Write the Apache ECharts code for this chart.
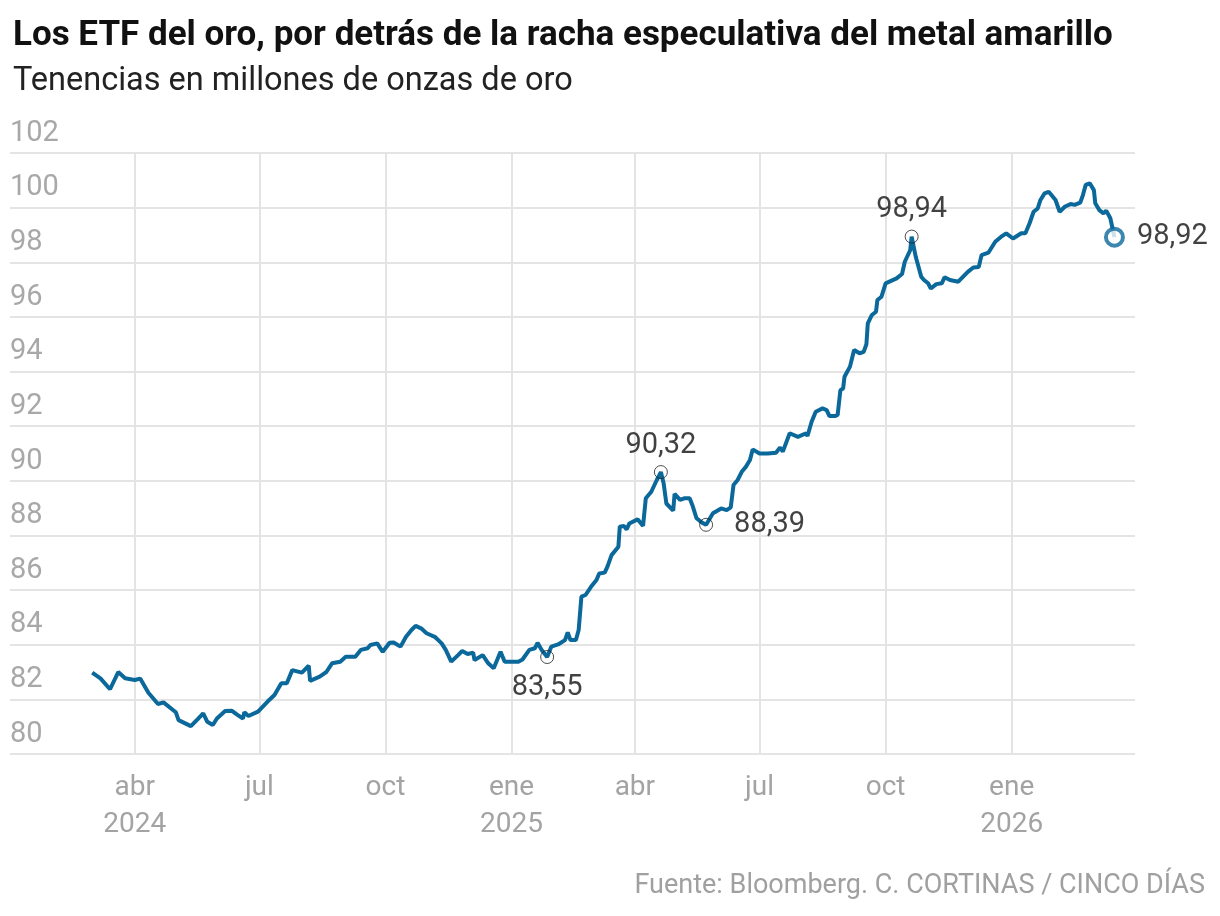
<!DOCTYPE html>
<html><head><meta charset="utf-8">
<script src="https://cdn.jsdelivr.net/npm/echarts@6/dist/echarts.min.js"></script>
<style>html,body{margin:0;padding:0;background:#fff}#c{width:1220px;height:916px}</style>
</head><body><div id="c"></div>
<script>
const titleText = 'Los ETF del oro, por detrás de la racha especulativa del metal amarillo';
const subtitleText = 'Tenencias en millones de onzas de oro';
const sourceText = 'Fuente: Bloomberg. C. CORTINAS / CINCO DÍAS';

const dates = [
 '2024-03-01','2024-03-07','2024-03-14','2024-03-20','2024-03-25','2024-04-01','2024-04-05','2024-04-11','2024-04-18','2024-04-22',
 '2024-05-01','2024-05-03','2024-05-12','2024-05-17','2024-05-21','2024-05-24','2024-05-28','2024-05-31','2024-06-06','2024-06-11',
 '2024-06-15','2024-06-19','2024-06-20','2024-06-23','2024-06-30','2024-07-07','2024-07-12','2024-07-17','2024-07-21','2024-07-25',
 '2024-08-01','2024-08-06','2024-08-07','2024-08-14','2024-08-19','2024-08-23','2024-08-29','2024-09-02','2024-09-09','2024-09-13',
 '2024-09-18','2024-09-20','2024-09-25','2024-09-29','2024-10-04','2024-10-07','2024-10-12','2024-10-16','2024-10-20','2024-10-23',
 '2024-10-27','2024-10-31','2024-11-06','2024-11-11','2024-11-14','2024-11-18','2024-11-23','2024-11-26','2024-11-30','2024-12-04',
 '2024-12-05','2024-12-11','2024-12-15','2024-12-19','2024-12-24','2024-12-27','2025-01-06','2025-01-09','2025-01-14','2025-01-18',
 '2025-01-20','2025-01-23','2025-01-27','2025-01-30','2025-02-04','2025-02-09','2025-02-11','2025-02-13','2025-02-17','2025-02-19',
 '2025-02-21','2025-02-24','2025-02-28','2025-03-04','2025-03-06','2025-03-10','2025-03-12','2025-03-15','2025-03-20','2025-03-21',
 '2025-03-24','2025-03-26','2025-03-28','2025-04-03','2025-04-07','2025-04-09','2025-04-13','2025-04-17','2025-04-20','2025-04-22',
 '2025-04-24','2025-04-29','2025-04-30','2025-05-04','2025-05-07','2025-05-11','2025-05-13','2025-05-16','2025-05-20','2025-05-23',
 '2025-05-28','2025-06-03','2025-06-07','2025-06-10','2025-06-12','2025-06-15','2025-06-18','2025-06-21','2025-06-24','2025-06-26',
 '2025-07-01','2025-07-07','2025-07-13','2025-07-16','2025-07-18','2025-07-23','2025-07-29','2025-08-04','2025-08-05','2025-08-08',
 '2025-08-11','2025-08-16','2025-08-19','2025-08-21','2025-08-25','2025-08-27','2025-08-29','2025-08-31','2025-09-01','2025-09-05',
 '2025-09-08','2025-09-12','2025-09-15','2025-09-17','2025-09-18','2025-09-21','2025-09-24','2025-09-25','2025-09-28','2025-10-01',
 '2025-10-05','2025-10-09','2025-10-13','2025-10-15','2025-10-19','2025-10-20','2025-10-23','2025-10-27','2025-10-29','2025-11-01',
 '2025-11-03','2025-11-07','2025-11-11','2025-11-13','2025-11-17','2025-11-23','2025-11-30','2025-12-04','2025-12-08','2025-12-10',
 '2025-12-15','2025-12-20','2025-12-25','2025-12-28','2026-01-02','2026-01-08','2026-01-11','2026-01-14','2026-01-17','2026-01-20',
 '2026-01-22','2026-01-25','2026-01-28','2026-01-30','2026-02-02','2026-02-05','2026-02-09','2026-02-13','2026-02-16','2026-02-20',
 '2026-02-22','2026-02-24','2026-02-27','2026-03-02','2026-03-03','2026-03-06','2026-03-09','2026-03-11','2026-03-14','2026-03-17'
];
const values = [
 82.98,82.77,82.37,83.00,82.77,82.71,82.76,82.24,81.83,81.89,
 81.53,81.24,81.02,81.28,81.49,81.18,81.06,81.30,81.57,81.58,
 81.43,81.30,81.53,81.39,81.55,81.92,82.16,82.59,82.59,83.07,
 82.98,83.23,82.68,82.83,83.01,83.32,83.38,83.56,83.56,83.81,
 83.87,83.99,84.05,83.74,84.07,84.08,83.93,84.29,84.54,84.69,
 84.60,84.42,84.29,84.05,83.81,83.38,83.62,83.77,83.66,83.71,
 83.44,83.62,83.32,83.14,83.74,83.38,83.38,83.46,83.81,83.87,
 84.07,83.81,83.55,83.93,84.01,84.17,84.45,84.17,84.17,84.54,
 85.76,85.82,86.12,86.37,86.61,86.64,86.86,87.28,87.59,88.32,
 88.35,88.22,88.44,88.59,88.35,89.36,89.60,90.03,90.32,89.91,
 89.17,88.91,89.52,89.30,89.36,89.36,89.11,88.63,88.47,88.39,
 88.81,88.99,88.93,89.03,89.85,90.03,90.33,90.51,90.76,91.15,
 91.00,91.00,91.03,91.22,91.07,91.74,91.61,91.74,91.64,92.16,
 92.53,92.65,92.59,92.37,92.37,92.41,93.32,93.38,93.81,94.18,
 94.79,94.67,94.72,95.00,95.76,96.07,96.19,96.62,96.74,97.23,
 97.32,97.41,97.57,98.02,98.45,98.94,98.20,97.47,97.35,97.23,
 97.04,97.20,97.23,97.45,97.35,97.29,97.65,97.81,97.83,98.26,
 98.35,98.75,98.96,99.06,98.87,99.06,99.06,99.42,99.85,99.97,
 100.28,100.52,100.58,100.46,100.28,99.85,100.04,100.13,100.10,100.18,
 100.46,100.83,100.89,100.64,100.16,99.91,99.79,99.89,99.61,98.92
];

const annDates = ['2025-01-27','2025-04-20','2025-05-23','2025-10-20'];
const annValues = [83.55, 90.32, 88.39, 98.94];
const lastDate = '2026-03-17';
const lastValue = 98.92;

const tickDates = ['2024-04-01','2024-07-01','2024-10-01','2025-01-01','2025-04-01','2025-07-01','2025-10-01','2026-01-01'];
const monthNames = ['ene','feb','mar','abr','may','jun','jul','ago','sep','oct','nov','dic'];

function toTs(s){ const p = s.split('-').map(Number); return new Date(p[0], p[1]-1, p[2]).getTime(); }
function fmt(v){ return v.toFixed(2).replace('.', ','); }

const FONT = 'Roboto';
const lineColor = '#0b689b';
const gridColor = '#e4e4e4';
const annPositions = ['bottom','top','right','top'];
const annDistances = [9, 5, 21, 5];

const lineData = dates.map((d,i)=>[toTs(d), values[i]]);
const annData = annDates.map((d,i)=>({
  value:[toTs(d), annValues[i]],
  label:{show:true, position:annPositions[i], distance:annDistances[i], formatter:fmt(annValues[i])}
}));
const tickTs = tickDates.map(toTs);

const chart = echarts.init(document.getElementById('c'), null, {renderer:'canvas'});
chart.setOption({
  animation:false,
  backgroundColor:'#fff',
  textStyle:{fontFamily:FONT},
  title:[
    {text:titleText, left:8, top:14, textStyle:{fontFamily:FONT, fontWeight:'bold', fontSize:35, color:'#111'}},
    {text:subtitleText, left:8, top:60, textStyle:{fontFamily:FONT, fontWeight:'normal', fontSize:32.5, color:'#222'}},
    {text:sourceText, right:10, top:868, textStyle:{fontFamily:FONT, fontWeight:'normal', fontSize:27, color:'#a0a0a0'}}
  ],
  grid:{left:10, right:85, top:153, bottom:162, containLabel:false},
  xAxis:{
    type:'value',
    min:toTs('2024-01-01'), max:toTs('2026-04-01'),
    axisLine:{show:false},
    axisTick:{show:false, customValues:tickTs},
    splitLine:{show:true, lineStyle:{color:gridColor, width:2}},
    axisLabel:{
      customValues:tickTs,
      margin:15,
      fontFamily:FONT, fontSize:28, color:'#a3a3a3', lineHeight:37,
      formatter:function(v){
        const d = new Date(v);
        const m = monthNames[d.getMonth()];
        return (d.getMonth()===3 && d.getFullYear()===2024) || d.getMonth()===0 ? m + '\n' + d.getFullYear() : m;
      }
    }
  },
  yAxis:{
    type:'value', min:80, max:102, interval:2,
    axisLine:{show:false}, axisTick:{show:false},
    splitLine:{show:true, lineStyle:{color:gridColor, width:2}},
    axisLabel:{
      inside:true, margin:0, align:'left', verticalAlign:'bottom',
      padding:[0,0,5,0],
      fontFamily:FONT, fontSize:29, color:'#a8a8a8'
    }
  },
  series:[
    {type:'line', data:lineData, showSymbol:false, symbol:'none',
     lineStyle:{color:lineColor, width:4}, z:3},
    {type:'scatter', data:annData, symbol:'circle', symbolSize:13,
     itemStyle:{color:'rgba(0,0,0,0)', borderColor:'#222', borderWidth:1},
     label:{fontFamily:FONT, fontSize:29, color:'#111'}, z:4},
    {type:'scatter', data:[[toTs(lastDate), lastValue]], symbol:'circle', symbolSize:17,
     itemStyle:{color:'#fff', borderColor:lineColor, borderWidth:4},
     label:{show:true, position:'right', distance:12, formatter:fmt(lastValue), fontFamily:FONT, fontSize:29, color:'#111'}, z:5}
  ]
});
</script></body></html>
